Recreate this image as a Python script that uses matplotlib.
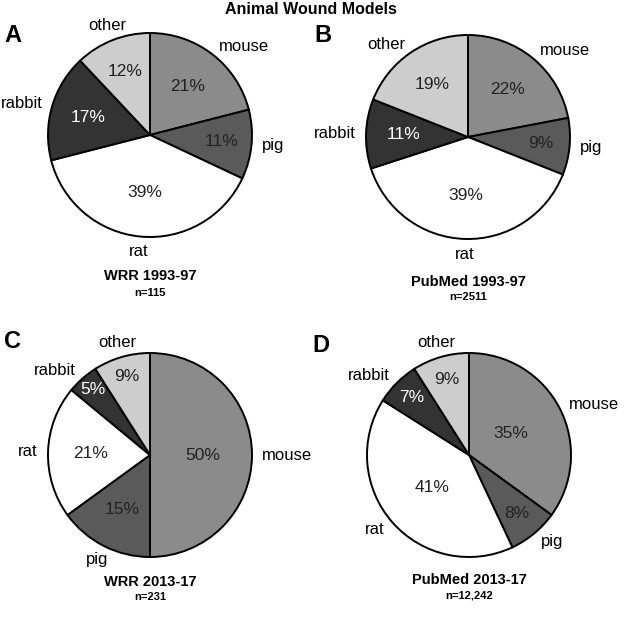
import matplotlib
matplotlib.use("Agg")
import matplotlib.pyplot as plt
import numpy as np

plt.rcParams["font.family"] = ["Liberation Sans", "DejaVu Sans"]

species = ["mouse", "pig", "rat", "rabbit", "other"]
wrr_1993 = [21, 11, 39, 17, 12]
pubmed_1993 = [22, 9, 39, 11, 19]
wrr_2013 = [50, 15, 21, 5, 9]
pubmed_2013 = [35, 8, 41, 7, 9]
panel_letters = ["A", "B", "C", "D"]
panel_titles = ["WRR 1993-97", "PubMed 1993-97", "WRR 2013-17", "PubMed 2013-17"]
panel_counts = ["n=115", "n=2511", "n=231", "n=12,242"]

colors = ["#8b8b8b", "#5a5a5a", "#ffffff", "#333333", "#cdcdcd"]
pct_colors = ["#222222", "#222222", "#222222", "#ffffff", "#222222"]

W, H = 625, 617
fig = plt.figure(figsize=(W / 100, H / 100), dpi=100)

# pie centres / radius in pixels, and per-slice pct distance
centres = [(150, 135), (468, 137), (150, 455), (469, 455)]
R = 102
pct_dist = [[0.6, 0.7, 0.57, 0.63, 0.67],
            [0.6, 0.72, 0.57, 0.63, 0.62],
            [0.52, 0.6, 0.58, 0.85, 0.8],
            [0.46, 0.74, 0.48, 0.8, 0.77]]
title_y = [(276, 293), (282, 297), (582, 597), (580, 595)]
letter_pos = [(4, 36), (314, 36), (4, 342), (312, 345)]

datasets = [wrr_1993, pubmed_1993, wrr_2013, pubmed_2013]
L = 1.6
for i, vals in enumerate(datasets):
    cx, cy = centres[i]
    side = 2 * R * L
    ax = fig.add_axes([(cx - side / 2) / W, 1 - (cy + side / 2) / H, side / W, side / H])
    wedges, texts, autotexts = ax.pie(
        vals, labels=species, colors=colors, startangle=90, counterclock=False,
        autopct="%d%%", labeldistance=1.1,
        wedgeprops=dict(edgecolor="black", linewidth=1.4),
        textprops=dict(fontsize=12))
    ax.set_xlim(-L, L); ax.set_ylim(-L, L); ax.set_aspect("equal"); ax.axis("off")
    for k, (w, t, a) in enumerate(zip(wedges, texts, autotexts)):
        ang = np.deg2rad((w.theta1 + w.theta2) / 2)
        d = pct_dist[i][k]
        a.set_position((d * np.cos(ang), d * np.sin(ang)))
        a.set_color(pct_colors[k]); a.set_fontsize(12.5)
        if abs(np.cos(ang)) < 0.5:
            t.set_position((1.14 * np.cos(ang), 1.15 * np.sin(ang)))
            t.set_horizontalalignment("center")
    fig.text(cx / W, 1 - title_y[i][0] / H, panel_titles[i], ha="center", va="center",
             fontsize=10.5, weight="bold")
    fig.text(cx / W, 1 - title_y[i][1] / H, panel_counts[i], ha="center", va="center",
             fontsize=8, weight="bold")
    lx, ly = letter_pos[i]
    fig.text(lx / W, 1 - ly / H, panel_letters[i], ha="left", va="center",
             fontsize=17, weight="bold")

fig.text(311 / W, 1 - 10 / H, "Animal Wound Models", ha="center", va="center",
         fontsize=11.5, weight="bold")

fig.savefig("out.png", dpi=100)
